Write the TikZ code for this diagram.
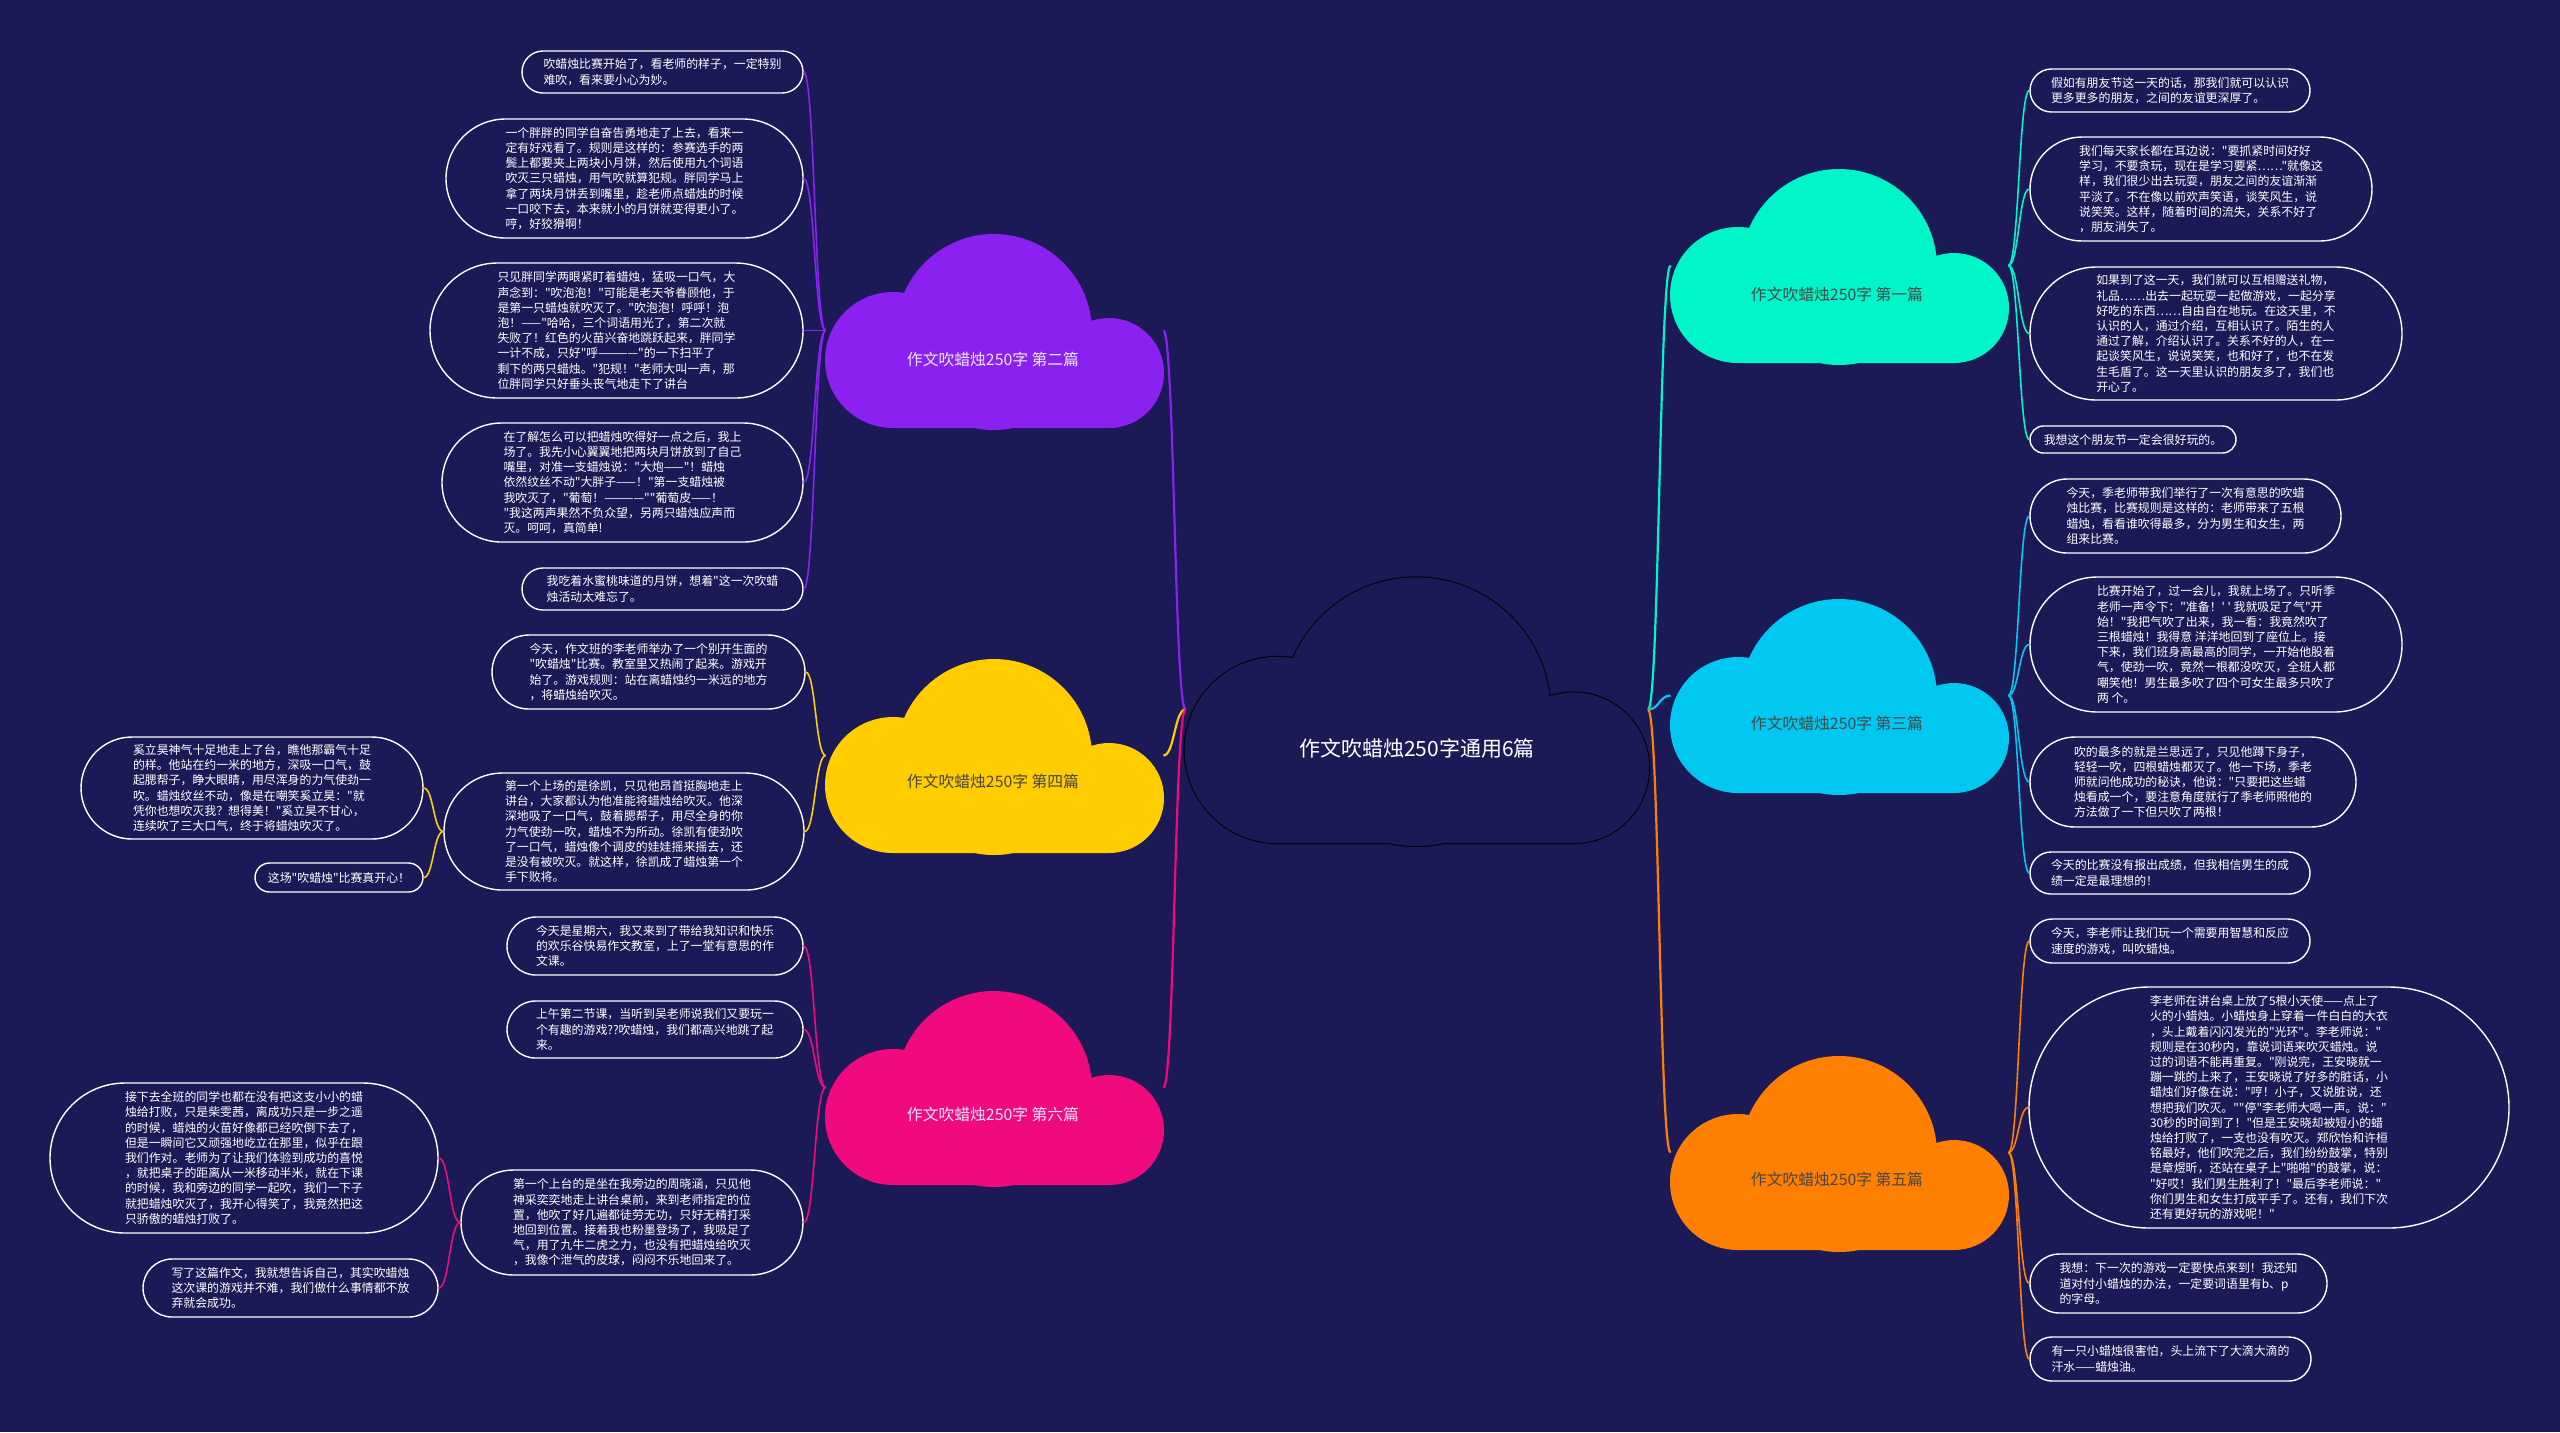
\documentclass[tikz,border=0pt]{standalone}
\usepackage{fontspec}
\setmainfont{Noto Sans CJK SC}[Ligatures=TeXOff]
\usetikzlibrary{calc}
\definecolor{bg}{RGB}{27,26,86}
\definecolor{cpur}{RGB}{138,33,240}
\definecolor{cyel}{RGB}{255,205,0}
\definecolor{cmag}{RGB}{240,10,125}
\definecolor{cmint}{RGB}{0,245,200}
\definecolor{ccyan}{RGB}{0,200,240}
\definecolor{corg}{RGB}{255,128,0}
\definecolor{ldark}{RGB}{70,70,70}
\definecolor{llight}{RGB}{235,230,250}
\newcommand\boxfont{\fontsize{5.95pt}{7.6pt}\selectfont}
\newcommand\cloudtxtfont{\fontsize{7.9pt}{9pt}\selectfont}
\newcommand\centerfont{\fontsize{10.5pt}{12pt}\selectfont}
\tikzset{
  tbox/.style={draw=white, line width=0.7pt, text=white, align=left, inner sep=0pt, font=\boxfont},
  cbb/.style={inner sep=0pt, minimum width=168.5pt, minimum height=97.5pt},
  clab/.style={font=\cloudtxtfont, inner sep=0pt},
  mainln/.style={line width=1.1pt},
  brln/.style={line width=0.8pt},
}
\newcommand\tb[6]{\node[tbox, minimum width={#4*0.5pt}, minimum height={#5*0.5pt}, rounded corners={#5*0.25pt}] (#1) at (#2,#3) {#6};}
\newcommand\cloudp[4]{\path[#4] ({#1+67*#3},{#2+127*#3}) circle[radius={34*#3*1pt}] ({#1+168*#3},{#2+99*#3}) circle[radius={49*#3*1pt}] ({#1+283*#3},{#2+140*#3}) circle[radius={27.5*#3*1pt}] ({#1+67*#3},{#2+100*#3}) rectangle ({#1+283*#3},{#2+195*#3});}
\newcommand\mmlink[3]{\draw[#1] let \p1=(#2), \p2=(#3) in (\p1) .. controls ({0.5*\x1+0.5*\x2},\y1) and ({0.5*\x1+0.5*\x2},\y2) .. (\p2);}
\begin{document}
\begin{tikzpicture}[x=0.5pt,y=-0.5pt]
\fill[bg] (0,0) rectangle (2560,1432);
\useasboundingbox (0,0) rectangle (2560,1432);
% clouds
\cloudp{826}{233}{1}{fill=cpur}
\cloudp{826}{658}{1}{fill=cyel}
\cloudp{826}{990}{1}{fill=cmag}
\cloudp{1671}{168}{1}{fill=cmint}
\cloudp{1671}{598}{1}{fill=ccyan}
\cloudp{1671}{1055}{1}{fill=corg}
\cloudp{1186}{576}{1.37}{draw=black,line width=1pt}
\cloudp{1186}{576}{1.37}{fill=bg}
% cloud frames
\node[cbb] (c2) at (994.5,330.5) {};
\node[cbb] (c4) at (994.5,755.5) {};
\node[cbb] (c6) at (994.5,1087.5) {};
\node[cbb] (c1) at (1839.5,265.5) {};
\node[cbb] (c3) at (1839.5,695.5) {};
\node[cbb] (c5) at (1839.5,1152.5) {};
\node[inner sep=0pt, minimum width=230.85pt, minimum height=133.5pt] (ctr) at (1416.8,709.5) {};
% labels
\node[clab, text=llight] (l2) at (993,359) {作文吹蜡烛250字 第二篇};
\node[clab, text=ldark] (l4) at (993,781) {作文吹蜡烛250字 第四篇};
\node[clab, text=llight] (l6) at (993,1114) {作文吹蜡烛250字 第六篇};
\node[clab, text=ldark] (l1) at (1837,294) {作文吹蜡烛250字 第一篇};
\node[clab, text=ldark] (l3) at (1837,723) {作文吹蜡烛250字 第三篇};
\node[clab, text=ldark] (l5) at (1837,1179) {作文吹蜡烛250字 第五篇};
\node[font=\centerfont, text=white, inner sep=0pt] (lc) at (1417,748) {作文吹蜡烛250字通用6篇};
% boxes left
\tb{B1}{662.5}{72}{281}{42}{吹蜡烛比赛开始了，看老师的样子，一定特别\\难吹，看来要小心为妙。}
\tb{B2}{624.5}{178.5}{357}{119}{一个胖胖的同学自奋告勇地走了上去，看来一\\定有好戏看了。规则是这样的：参赛选手的两\\鬓上都要夹上两块小月饼，然后使用九个词语\\吹灭三只蜡烛，用气吹就算犯规。胖同学马上\\拿了两块月饼丢到嘴里，趁老师点蜡烛的时候\\一口咬下去，本来就小的月饼就变得更小了。\\哼，好狡猾啊！}
\tb{B3}{616.5}{330.5}{373}{135}{只见胖同学两眼紧盯着蜡烛，猛吸一口气，大\\声念到："吹泡泡！"可能是老天爷眷顾他，于\\是第一只蜡烛就吹灭了。"吹泡泡！呼呼！泡\\泡！——"哈哈，三个词语用光了，第二次就\\失败了！红色的火苗兴奋地跳跃起来，胖同学\\一计不成，只好"呼————"的一下扫平了\\剩下的两只蜡烛。"犯规！"老师大叫一声，那\\位胖同学只好垂头丧气地走下了讲台}
\tb{B4}{622.5}{482.5}{361}{119}{在了解怎么可以把蜡烛吹得好一点之后，我上\\场了。我先小心翼翼地把两块月饼放到了自己\\嘴里，对准一支蜡烛说："大炮——"！蜡烛\\依然纹丝不动"大胖子——！"第一支蜡烛被\\我吹灭了，"葡萄！————""葡萄皮——！\\"我这两声果然不负众望，另两只蜡烛应声而\\灭。呵呵，真简单!}
\tb{B5}{662.5}{589}{281}{42}{我吃着水蜜桃味道的月饼，想着"这一次吹蜡\\烛活动太难忘了。}
\tb{Y1}{648.5}{672}{313}{74}{今天，作文班的李老师举办了一个别开生面的\\"吹蜡烛"比赛。教室里又热闹了起来。游戏开\\始了。游戏规则：站在离蜡烛约一米远的地方\\，将蜡烛给吹灭。}
\tb{Y2}{624}{831.5}{360}{117}{第一个上场的是徐凯，只见他昂首挺胸地走上\\讲台，大家都认为他准能将蜡烛给吹灭。他深\\深地吸了一口气，鼓着腮帮子，用尽全身的你\\力气使劲一吹，蜡烛不为所动。徐凯有使劲吹\\了一口气，蜡烛像个调皮的娃娃摇来摇去，还\\是没有被吹灭。就这样，徐凯成了蜡烛第一个\\手下败将。}
\tb{Y3}{252}{788}{342}{102}{奚立昊神气十足地走上了台，瞧他那霸气十足\\的样。他站在约一米的地方，深吸一口气，鼓\\起腮帮子，睁大眼睛，用尽浑身的力气使劲一\\吹。蜡烛纹丝不动，像是在嘲笑奚立昊："就\\凭你也想吹灭我？想得美！"奚立昊不甘心，\\连续吹了三大口气，终于将蜡烛吹灭了。}
\tb{Y4}{339}{877.5}{168}{29}{这场"吹蜡烛"比赛真开心！}
\tb{M1}{655}{946}{296}{58}{今天是星期六，我又来到了带给我知识和快乐\\的欢乐谷快易作文教室，上了一堂有意思的作\\文课。}
\tb{M2}{655}{1029.5}{296}{57}{上午第二节课，当听到吴老师说我们又要玩一\\个有趣的游戏??吹蜡烛，我们都高兴地跳了起\\来。}
\tb{M3}{632}{1222.5}{342}{105}{第一个上台的是坐在我旁边的周晓涵，只见他\\神采奕奕地走上讲台桌前，来到老师指定的位\\置，他吹了好几遍都徒劳无功，只好无精打采\\地回到位置。接着我也粉墨登场了，我吸足了\\气，用了九牛二虎之力，也没有把蜡烛给吹灭\\，我像个泄气的皮球，闷闷不乐地回来了。}
\tb{M4}{244}{1158}{388}{150}{接下去全班的同学也都在没有把这支小小的蜡\\烛给打败，只是柴雯茜，离成功只是一步之遥\\的时候，蜡烛的火苗好像都已经吹倒下去了，\\但是一瞬间它又顽强地屹立在那里，似乎在跟\\我们作对。老师为了让我们体验到成功的喜悦\\，就把桌子的距离从一米移动半米，就在下课\\的时候，我和旁边的同学一起吹，我们一下子\\就把蜡烛吹灭了，我开心得笑了，我竟然把这\\只骄傲的蜡烛打败了。}
\tb{M5}{290.5}{1288}{295}{58}{写了这篇作文，我就想告诉自己，其实吹蜡烛\\这次课的游戏并不难，我们做什么事情都不放\\弃就会成功。}
% boxes right
\tb{T1}{2170}{90.5}{280}{43}{假如有朋友节这一天的话，那我们就可以认识\\更多更多的朋友，之间的友谊更深厚了。}
\tb{T2}{2201}{189}{342}{104}{我们每天家长都在耳边说："要抓紧时间好好\\学习，不要贪玩，现在是学习要紧……"就像这\\样，我们很少出去玩耍，朋友之间的友谊渐渐\\平淡了。不在像以前欢声笑语，谈笑风生，说\\说笑笑。这样，随着时间的流失，关系不好了\\，朋友消失了。}
\tb{T3}{2216}{333.5}{372}{133}{如果到了这一天，我们就可以互相赠送礼物，\\礼品……出去一起玩耍一起做游戏，一起分享\\好吃的东西……自由自在地玩。在这天里，不\\认识的人，通过介绍，互相认识了。陌生的人\\通过了解，介绍认识了。关系不好的人，在一\\起谈笑风生，说说笑笑，也和好了，也不在发\\生毛盾了。这一天里认识的朋友多了，我们也\\开心了。}
\tb{T4}{2133}{439.5}{206}{27}{我想这个朋友节一定会很好玩的。}
\tb{C1}{2185.5}{516}{311}{74}{今天，季老师带我们举行了一次有意思的吹蜡\\烛比赛，比赛规则是这样的：老师带来了五根\\蜡烛，看看谁吹得最多，分为男生和女生，两\\组来比赛。}
\tb{C2}{2216}{644.5}{372}{135}{比赛开始了，过一会儿，我就上场了。只听季\\老师一声令下："准备！' ' 我就吸足了气"开\\始！"我把气吹了出来，我一看：我竟然吹了\\三根蜡烛！我得意 洋洋地回到了座位上。接\\下来，我们班身高最高的同学，一开始他股着\\气，使劲一吹，竟然一根都没吹灭，全班人都\\嘲笑他！男生最多吹了四个可女生最多只吹了\\两 个。}
\tb{C3}{2193}{782}{326}{90}{吹的最多的就是兰思远了，只见他蹲下身子，\\轻轻一吹，四根蜡烛都灭了。他一下场，季老\\师就问他成功的秘诀，他说："只要把这些蜡\\烛看成一个，要注意角度就行了季老师照他的\\方法做了一下但只吹了两根！}
\tb{C4}{2170}{873}{280}{42}{今天的比赛没有报出成绩，但我相信男生的成\\绩一定是最理想的！}
\tb{O1}{2170}{941}{280}{44}{今天，李老师让我们玩一个需要用智慧和反应\\速度的游戏，叫吹蜡烛。}
\tb{O2}{2269}{1107.5}{480}{241}{李老师在讲台桌上放了5根小天使——点上了\\火的小蜡烛。小蜡烛身上穿着一件白白的大衣\\，头上戴着闪闪发光的"光环"。李老师说："\\规则是在30秒内，靠说词语来吹灭蜡烛。说\\过的词语不能再重复。"刚说完，王安晓就一\\蹦一跳的上来了，王安晓说了好多的脏话，小\\蜡烛们好像在说："哼！小子，又说脏说，还\\想把我们吹灭。""停"李老师大喝一声。说："\\30秒的时间到了！"但是王安晓却被短小的蜡\\烛给打败了，一支也没有吹灭。郑欣怡和许桓\\铭最好，他们吹完之后，我们纷纷鼓掌，特别\\是章煜昕，还站在桌子上"啪啪"的鼓掌，说：\\"好哎！我们男生胜利了！"最后李老师说："\\你们男生和女生打成平手了。还有，我们下次\\还有更好玩的游戏呢！"}
\tb{O3}{2178.5}{1283.5}{297}{59}{我想：下一次的游戏一定要快点来到！我还知\\道对付小蜡烛的办法，一定要词语里有b、p\\的字母。}
\tb{O4}{2170.5}{1359}{281}{44}{有一只小蜡烛很害怕，头上流下了大滴大滴的\\汗水——蜡烛油。}
% main connectors
\mmlink{mainln,cpur}{ctr.west}{c2.east}
\mmlink{mainln,cyel}{ctr.west}{c4.east}
\mmlink{mainln,cmag}{ctr.west}{c6.east}
\mmlink{mainln,cmint}{ctr.east}{c1.west}
\mmlink{mainln,ccyan}{ctr.east}{c3.west}
\mmlink{mainln,corg}{ctr.east}{c5.west}
% branch connectors
\foreach \b in {B1,B2,B3,B4,B5}{\mmlink{brln,cpur}{c2.west}{\b.east}}
\foreach \b in {Y1,Y2}{\mmlink{brln,cyel}{c4.west}{\b.east}}
\foreach \b in {Y3,Y4}{\mmlink{brln,cyel}{Y2.west}{\b.east}}
\foreach \b in {M1,M2,M3}{\mmlink{brln,cmag}{c6.west}{\b.east}}
\foreach \b in {M4,M5}{\mmlink{brln,cmag}{M3.west}{\b.east}}
\foreach \b in {T1,T2,T3,T4}{\mmlink{brln,cmint}{c1.east}{\b.west}}
\foreach \b in {C1,C2,C3,C4}{\mmlink{brln,ccyan}{c3.east}{\b.west}}
\foreach \b in {O1,O2,O3,O4}{\mmlink{brln,corg}{c5.east}{\b.west}}
\end{tikzpicture}
\end{document}
